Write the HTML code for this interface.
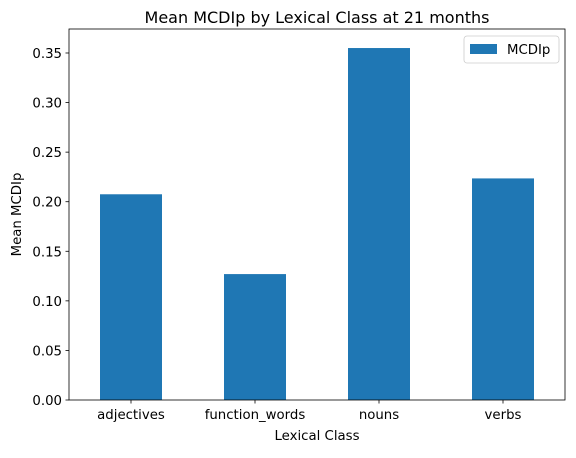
<!DOCTYPE html>
<html><head><meta charset="utf-8"><style>
body{margin:0;background:#fff;font-family:"Liberation Sans","DejaVu Sans",sans-serif;}
svg text{font-family:"DejaVu Sans","Liberation Sans",sans-serif;}
</style></head><body>
<svg id="chart" width="576" height="453" xmlns="http://www.w3.org/2000/svg">
<rect width="576" height="453" fill="#fff"/>
<g id="plot"></g>
</svg>
<script>
const categories = ["adjectives","function_words","nouns","verbs"];
const values = [0.2075, 0.127, 0.355, 0.2235];
const yTicks = [0.00,0.05,0.10,0.15,0.20,0.25,0.30,0.35];
const yTickLabels = ["0.00","0.05","0.10","0.15","0.20","0.25","0.30","0.35"];

const L=69,R=565,T=29,B=400,yMax=0.3742;
const NS="http://www.w3.org/2000/svg";
const g=document.getElementById('plot');
function x(i){return L+(i+0.5)*(R-L)/categories.length;}
function y(v){return B-(v/yMax)*(B-T);}
function mk(tag,attrs,txt){const e=document.createElementNS(NS,tag);for(const k in attrs)e.setAttribute(k,attrs[k]);if(txt!==undefined)e.textContent=txt;g.appendChild(e);return e;}
const bw=(R-L)/categories.length*0.5;
values.forEach((v,i)=>{
  const r=mk('rect',{x:x(i)-bw/2,y:y(v),width:bw,height:B-y(v),fill:'#1f77b4'});
  
  
});
const fr=mk('rect',{x:L,y:T,width:R-L,height:B-T,fill:'none',stroke:'#000','stroke-width':0.8});


yTicks.forEach((t,i)=>{
  mk('line',{x1:L-3.5,x2:L,y1:y(t),y2:y(t),stroke:'#000','stroke-width':0.8});
  const tx=mk('text',{x:L-7,y:y(t)+5,'text-anchor':'end','font-size':13.3,fill:'#000'},yTickLabels[i]);
  
  
});
categories.forEach((c,i)=>{
  mk('line',{x1:x(i),x2:x(i),y1:B,y2:B+3.5,stroke:'#000','stroke-width':0.8});
  const tx=mk('text',{x:x(i),y:B+19,'text-anchor':'middle','font-size':13.3,fill:'#000'},c);
  
  
});
const tt=mk('text',{x:(L+R)/2,y:T-6,'text-anchor':'middle','font-size':16,fill:'#000'},'Mean MCDIp by Lexical Class at 21 months');


const xt=mk('text',{x:(L+R)/2,y:440,'text-anchor':'middle','font-size':13.3,fill:'#000'},'Lexical Class');


const yt=mk('text',{x:21,y:(T+B)/2,'text-anchor':'middle','font-size':13.3,fill:'#000',transform:`rotate(-90 21 ${(T+B)/2})`},'Mean MCDIp');


const lg=mk('rect',{x:464,y:36,width:95,height:27,rx:3,fill:'#fff',stroke:'#ccc','stroke-width':0.8});


const ls=mk('rect',{x:470,y:44,width:27,height:10,fill:'#1f77b4'});


const lt=mk('text',{x:507,y:54,'font-size':13.3,fill:'#000'},'MCDIp');


</script>
</body></html>
